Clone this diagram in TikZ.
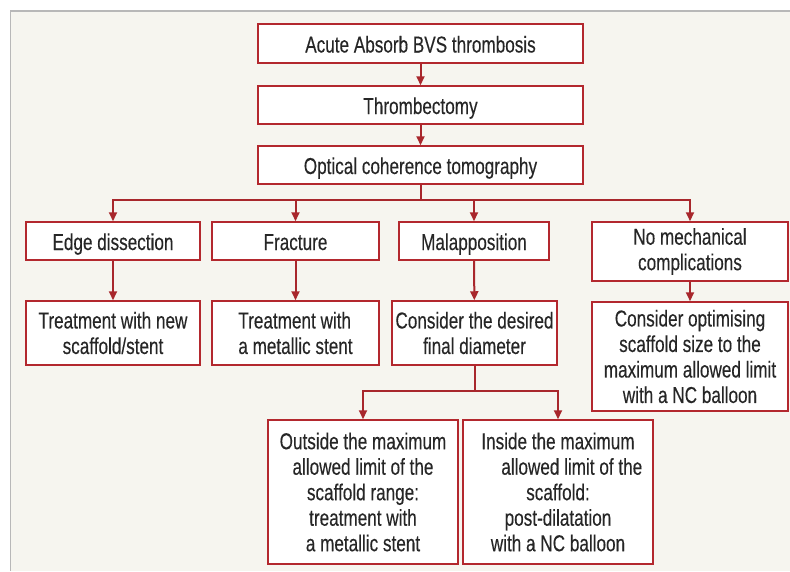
\documentclass[tikz,border=0pt]{standalone}
\usepackage{fontspec}
\setmainfont{Liberation Sans}[FakeStretch=0.745, FakeBold=0.25]
\usetikzlibrary{arrows.meta}
\definecolor{boxred}{HTML}{B3282E}
\definecolor{linered}{HTML}{A8272C}
\definecolor{panelbg}{HTML}{F6F5EF}
\definecolor{panelline}{HTML}{B8B8B8}
\definecolor{txt}{HTML}{262626}
\begin{document}
\begin{tikzpicture}[x=1pt, y=-1pt,
        box/.style={draw=boxred, fill=white, line width=1.5pt, inner sep=2pt,
            align=center, text=txt, font=\fontsize{23}{25.5}\selectfont},
        oneline/.style={text height=18pt, text depth=0pt},
        link/.style={draw=linered, line width=2pt},
        >={Triangle[length=9pt, width=8pt]}]

        \useasboundingbox (0, 0) rectangle (790, 571);
        \fill[panelbg] (10, 11) rectangle (790, 571);
        \draw[panelline, line width=1.6pt] (10.5, 571) -- (10.5, 11) -- (790, 11);

        \node (1-1) at (420.5, 43.5) [box, oneline, minimum width=325, minimum height=39] {Acute Absorb BVS thrombosis};
        \node (1-2) at (420.5, 105) [box, oneline, minimum width=325, minimum height=38] {Thrombectomy};
        \node (1-3) at (420.5, 165) [box, oneline, minimum width=325, minimum height=38] {Optical coherence tomography};

        \node (2-1) at (113, 241) [box, oneline, minimum width=174, minimum height=38] {Edge dissection};
        \node (2-2) at (295.5, 241) [box, oneline, minimum width=167, minimum height=38] {Fracture};
        \node (2-3) at (474, 241) [box, oneline, minimum width=150, minimum height=38] {Malapposition};
        \node (2-4) at (690, 251.5) [box, minimum width=196, minimum height=59] {No mechanical\\complications};

        \node (3-1) at (113, 333) [box, minimum width=174, minimum height=64] {Treatment with new\\scaffold/stent};
        \node (3-2) at (295.5, 333) [box, minimum width=167, minimum height=64, align=left] {Treatment with\\a metallic stent};
        \node (3-3) at (474.5, 333) [box, minimum width=165, minimum height=64] {Consider the desired\\final diameter};
        \node (3-4) at (690, 356.5) [box, minimum width=196, minimum height=109] {Consider optimising\\scaffold size to the\\maximum allowed limit\\with a NC balloon};

        \node (4-1) at (363, 492) [box, minimum width=190, minimum height=144] {Outside the maximum\\allowed limit of the\\scaffold range:\\treatment with\\a metallic stent};
        \node (4-2) at (558, 492) [box, minimum width=190, minimum height=144] {Inside the maximum\\\hspace*{1.2em}allowed limit of the\\scaffold:\\post-dilatation\\with a NC balloon};

        \coordinate (bus) at (420.5, 199.5);
        \coordinate (split) at (474.5, 391);

        \draw[link, ->] (1-1) -- (1-2);
        \draw[link, ->] (1-2) -- (1-3);
        \draw[link] (1-3) -- (bus);
        \draw[link, ->] (bus) -| (2-1);
        \draw[link, ->] (bus) -| (2-2);
        \draw[link, ->] (bus) -| (2-3);
        \draw[link, ->] (bus) -| (2-4);

        \draw[link, ->] (2-1) -- (3-1);
        \draw[link, ->] (2-2) -- (3-2);
        \draw[link, ->] (2-3) -- (3-3);
        \draw[link, ->] (2-4) -- (3-4);

        \draw[link] (3-3) -- (split);
        \draw[link, ->] (split) -| (4-1);
        \draw[link, ->] (split) -| (4-2);

    \end{tikzpicture}
\end{document}
